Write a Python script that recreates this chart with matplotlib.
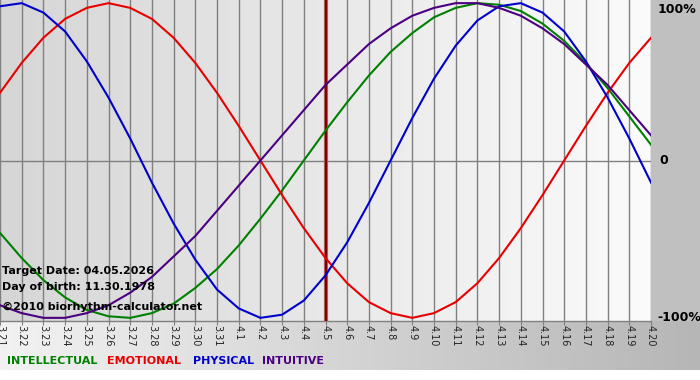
import numpy as np
import matplotlib
matplotlib.use("Agg")
import matplotlib.pyplot as plt
from matplotlib.colors import LinearSegmentedColormap

days = ["3.21", "3.22", "3.23", "3.24", "3.25", "3.26", "3.27", "3.28", "3.29", "3.30",
        "3.31", "4.1", "4.2", "4.3", "4.4", "4.5", "4.6", "4.7", "4.8", "4.9", "4.10",
        "4.11", "4.12", "4.13", "4.14", "4.15", "4.16", "4.17", "4.18", "4.19", "4.20"]
target_idx = 15

# values, -1..1
physical = [0.98, 1.00, 0.94, 0.82, 0.63, 0.40, 0.14, -0.14, -0.40, -0.63, -0.82,
            -0.94, -1.00, -0.98, -0.89, -0.73, -0.52, -0.27, 0.00, 0.27, 0.52,
            0.73, 0.89, 0.98, 1.00, 0.94, 0.82, 0.63, 0.40, 0.14, -0.14]
emotional = [0.43, 0.62, 0.78, 0.90, 0.97, 1.00, 0.97, 0.90, 0.78, 0.62, 0.43,
             0.22, 0.00, -0.22, -0.43, -0.62, -0.78, -0.90, -0.97, -1.00, -0.97,
             -0.90, -0.78, -0.62, -0.43, -0.22, 0.00, 0.22, 0.43, 0.62, 0.78]
intellectual = [-0.46, -0.62, -0.76, -0.87, -0.95, -0.99, -1.00, -0.97, -0.91, -0.81, -0.69,
                -0.54, -0.37, -0.19, 0.00, 0.19, 0.37, 0.54, 0.69, 0.81, 0.91,
                0.97, 1.00, 0.99, 0.95, 0.87, 0.76, 0.62, 0.46, 0.28, 0.10]
intuitive = [-0.92, -0.97, -1.00, -1.00, -0.97, -0.92, -0.84, -0.74, -0.61, -0.48, -0.32,
             -0.16, 0.00, 0.16, 0.32, 0.48, 0.61, 0.74, 0.84, 0.92, 0.97,
             1.00, 1.00, 0.97, 0.92, 0.84, 0.74, 0.61, 0.48, 0.32, 0.16]

x = np.arange(len(days))
n = len(days) - 1

fig = plt.figure(figsize=(7, 3.8), dpi=100)
fig.patch.set_facecolor("white")

# bottom gray strip
bot = fig.add_axes([0, 10 / 380, 1, 49 / 380])
bot.imshow(np.linspace(0, 1, 256).reshape(1, -1), aspect="auto",
           cmap=LinearSegmentedColormap.from_list("b", ["#f2f2f2", "#b6b6b6"]),
           extent=(0, 1, 0, 1))
bot.axis("off")

# right gray strip
side = fig.add_axes([651 / 700, 59 / 380, 49 / 700, 321 / 380])
side.set_facecolor("#c0c0c0")
side.set_xticks([])
side.set_yticks([])
for s in side.spines.values():
    s.set_visible(False)

ax = fig.add_axes([0, 59 / 380, 651 / 700, 321 / 380])
ax.imshow(np.linspace(0, 1, 256).reshape(1, -1), aspect="auto",
          cmap=LinearSegmentedColormap.from_list("p", ["#d6d6d6", "#fbfbfb"]),
          extent=(0, n, -1.02, 1.02), zorder=0)

for xi in x:
    ax.axvline(xi, color="#808080", lw=1, zorder=1)
ax.axhline(0, color="#808080", lw=1, zorder=1)
ax.axhline(-1.02, color="#808080", lw=1, zorder=1, clip_on=False)
ax.axvline(target_idx, color="#b06060", lw=3, zorder=2)
ax.axvline(target_idx, color="#800000", lw=1.5, zorder=2)

ax.plot(x, intellectual, color="#008000", lw=1.5, zorder=3, solid_joinstyle="round")
ax.plot(x, emotional, color="#e80000", lw=1.5, zorder=3, solid_joinstyle="round")
ax.plot(x, physical, color="#0000cc", lw=1.5, zorder=3, solid_joinstyle="round")
ax.plot(x, intuitive, color="#4b0082", lw=1.5, zorder=3, solid_joinstyle="round")

ax.set_xlim(0, n)
ax.set_ylim(-1.02, 1.02)
ax.set_xticks(x)
ax.set_xticklabels(days, rotation=270, fontsize=7, color="#222222")
ax.tick_params(axis="x", length=3, color="#808080", pad=0)
ax.set_yticks([])
for s in ax.spines.values():
    s.set_visible(False)

ax.text(n + 0.3, 1.0, "100%", fontsize=9, fontweight="bold", va="top", ha="left", clip_on=False)
ax.text(n + 0.4, 0, "0", fontsize=9, fontweight="bold", va="center", ha="left", clip_on=False)
ax.text(n + 0.3, -1.0, "-100%", fontsize=9, fontweight="bold", va="center", ha="left", clip_on=False)

fig.text(2 / 700, 1 - 271 / 380, "Target Date: 04.05.2026", fontsize=8, fontweight="bold", va="center")
fig.text(2 / 700, 1 - 287 / 380, "Day of birth: 11.30.1978", fontsize=8, fontweight="bold", va="center")
fig.text(2 / 700, 1 - 307 / 380, "\u00a92010 biorhythm-calculator.net", fontsize=8, fontweight="bold", va="center")

legend = [("INTELLECTUAL", "#008000", 7), ("EMOTIONAL", "#e80000", 107),
          ("PHYSICAL", "#0000cc", 193), ("INTUITIVE", "#4b0082", 262)]
for word, col, px in legend:
    fig.text(px / 700, 1 - 361 / 380, word, fontsize=8, fontweight="bold", color=col, va="center")

fig.savefig("out.png", dpi=100)
